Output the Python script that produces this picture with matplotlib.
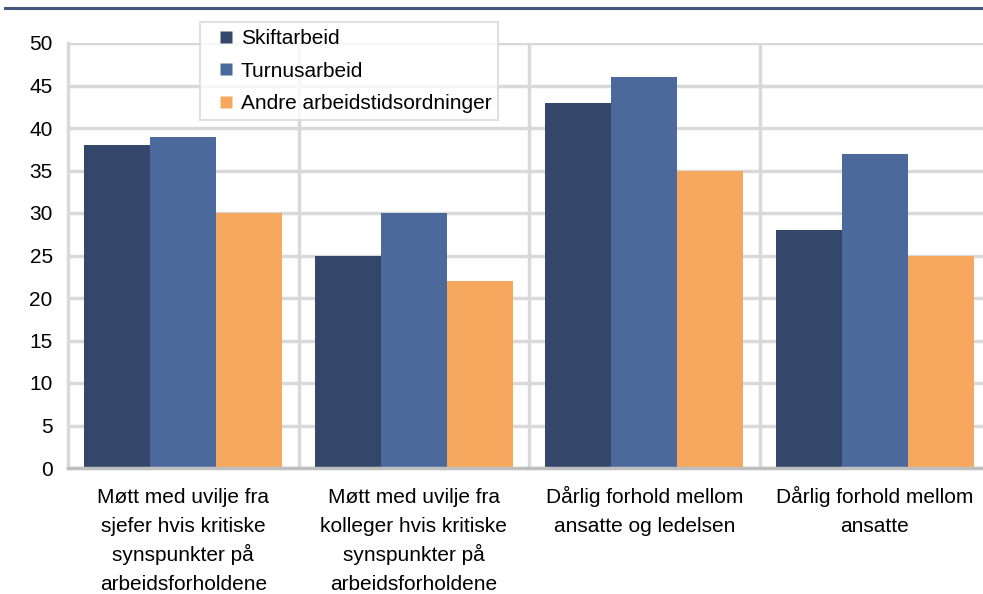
import matplotlib
matplotlib.use("Agg")
import matplotlib.pyplot as plt
import numpy as np
from matplotlib.lines import Line2D
import matplotlib.transforms as mtransforms

plt.rcParams['font.family'] = ['Liberation Sans', 'DejaVu Sans']

categories = [
    "Møtt med uvilje fra\nsjefer hvis kritiske\nsynspunkter på\narbeidsforholdene",
    "Møtt med uvilje fra\nkolleger hvis kritiske\nsynspunkter på\narbeidsforholdene",
    "Dårlig forhold mellom\nansatte og ledelsen",
    "Dårlig forhold mellom\nansatte",
]
series_names = ["Skiftarbeid", "Turnusarbeid", "Andre arbeidstidsordninger"]
skift = [38, 25, 43, 28]
turnus = [39, 30, 46, 37]
andre = [30, 22, 35, 25]
yticks = [0, 5, 10, 15, 20, 25, 30, 35, 40, 45, 50]

colors = ["#344669", "#4b699b", "#f6a95e"]
grid_c = "#d9d9d9"
FS = 15

W, H = 983, 594
fig = plt.figure(figsize=(W / 100, H / 100), dpi=100)
ax = fig.add_axes([68 / W, 1 - 468 / H, (990 - 68) / W, (468 - 43) / H])

x = np.arange(len(categories))
bw = 0.287
for i, (vals, name) in enumerate(zip([skift, turnus, andre], series_names)):
    ax.bar(x + (i - 1) * bw, vals, width=bw, color=colors[i], label=name, zorder=3, linewidth=0)

ax.set_xlim(-0.5, len(categories) - 0.5)
ax.set_ylim(0, 50)
ax.set_yticks(yticks)
ax.set_yticklabels([str(v) for v in yticks], fontsize=FS)
ax.set_xticks(x)
ax.set_xticklabels([""] * len(categories))
ax.set_xticks(np.arange(0.5, len(categories) - 0.5, 1), minor=True)
ax.tick_params(axis='both', which='both', length=0)
ax.tick_params(axis='y', pad=11)

# category labels, evenly spaced lines
trans = mtransforms.blended_transform_factory(ax.transData, ax.transAxes)
for xi, cat in zip(x, categories):
    for j, line in enumerate(cat.split("\n")):
        ax.annotate(line, xy=(xi, 0), xycoords=trans,
                    xytext=(0, -(35 + 29 * j) * 0.72), textcoords='offset points',
                    ha='center', va='baseline', fontsize=FS, annotation_clip=False)

ax.grid(axis='y', which='major', color=grid_c, linewidth=2.5, zorder=0)
ax.grid(axis='x', which='minor', color=grid_c, linewidth=2.5, zorder=0)
ax.grid(axis='x', which='major', visible=False)
for s in ['top', 'right']:
    ax.spines[s].set_visible(False)
ax.spines['left'].set_color(grid_c)
ax.spines['left'].set_linewidth(2.5)
ax.spines['bottom'].set_color("#bfbfbf")
ax.spines['bottom'].set_linewidth(2.5)
ax.spines['bottom'].set_zorder(4)

handles = [Line2D([], [], linestyle='none', marker='s', markersize=8.6,
                  markerfacecolor=c, markeredgecolor='none') for c in colors]
leg = fig.legend(handles, series_names, loc='upper left',
                 bbox_to_anchor=(200 / W, 1 - 22 / H), borderaxespad=0,
                 fontsize=FS, frameon=True, fancybox=False,
                 handlelength=1.83, handletextpad=-0.2,
                 labelspacing=0.66, borderpad=0.33)
leg.get_frame().set_edgecolor(grid_c)
leg.get_frame().set_linewidth(1.5)
leg.get_frame().set_facecolor('white')

fig.add_artist(Line2D([5 / W, 1], [1 - 8 / H, 1 - 8 / H], color="#44587f", linewidth=2.2,
                      transform=fig.transFigure))

fig.savefig("out.png", dpi=100)
